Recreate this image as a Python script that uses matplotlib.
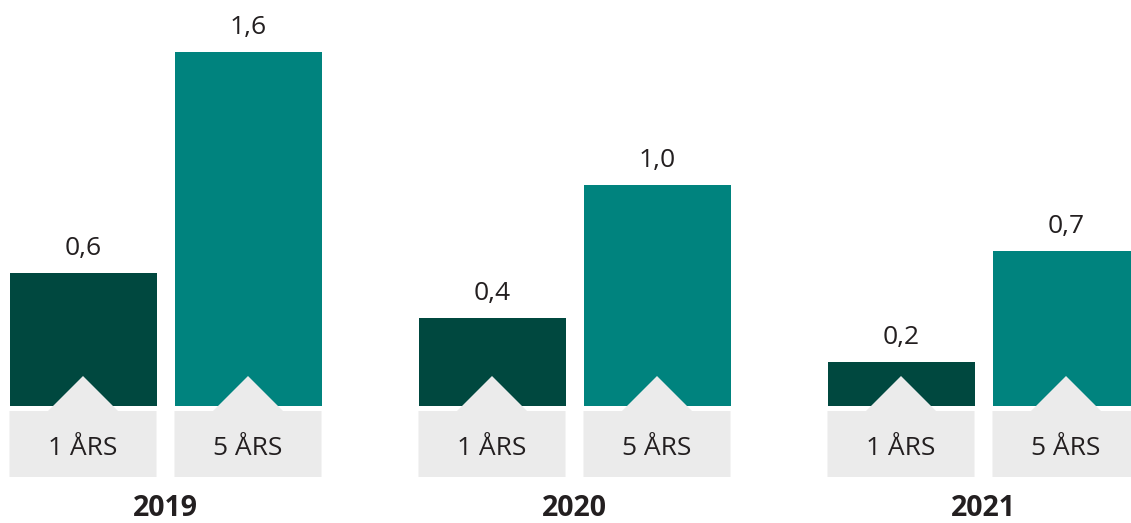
import matplotlib
matplotlib.use("Agg")
from matplotlib import pyplot as plt
from matplotlib.patches import Polygon
import numpy as np

plt.rcParams['font.family'] = ['Open Sans', 'DejaVu Sans']

# Returns by year, for the 1-year and 5-year horizon
years = ["2019", "2020", "2021"]
one_year = [0.6, 0.4, 0.2]
five_year = [1.6, 1.0, 0.7]
series_labels = ["1 ÅRS", "5 ÅRS"]

dark = "#00483f"
teal = "#00837e"
grey = "#ebebeb"
ink = "#231f20"

fig = plt.figure(figsize=(11.31, 5.23), dpi=100)
ax = fig.add_axes([0, 0, 1, 1])

# pixel-ish layout helpers: one group step = 409 px, one value unit = 221 px
step_px = 409.0
unit_px = 221.0
px_x = lambda p: p / step_px
px_y = lambda p: p / unit_px

width = px_x(147)
offset = px_x(82.5)
x = np.arange(len(years))

for vals, color, dx, lab in [(one_year, dark, -offset, series_labels[0]),
                             (five_year, teal, offset, series_labels[1])]:
    ax.bar(x + dx, vals, width=width, color=color, linewidth=0)
    for xi, v in zip(x + dx, vals):
        ax.annotate(f"{v:.1f}".replace(".", ","), (xi, v), xytext=(0, 13),
                    textcoords="offset points", ha="center", va="baseline",
                    fontsize=19, color=ink)
        # grey tag under each bar with a small arrow pointing up into it
        top = -px_y(5)
        bottom = -px_y(71)
        tri = px_y(35)
        hw = width / 2
        tw = px_x(35)
        shape = Polygon([(xi - hw, bottom), (xi + hw, bottom), (xi + hw, top),
                         (xi + tw, top), (xi, top + tri), (xi - tw, top),
                         (xi - hw, top)], closed=True, facecolor=grey,
                        edgecolor="none", zorder=3)
        ax.add_patch(shape)
        ax.text(xi, -px_y(49), lab, ha="center", va="baseline",
                fontsize=19, color=ink, zorder=4)

for xi, yr in zip(x, years):
    ax.text(xi, -px_y(110), yr, ha="center", va="baseline", fontsize=20.5,
            fontweight="bold", color=ink)

ax.set_xlim(-px_x(165.5), px_x(1131 - 165.5))
ax.set_ylim(-px_y(117), px_y(406))
ax.axis("off")

fig.savefig("out.png", dpi=100)
